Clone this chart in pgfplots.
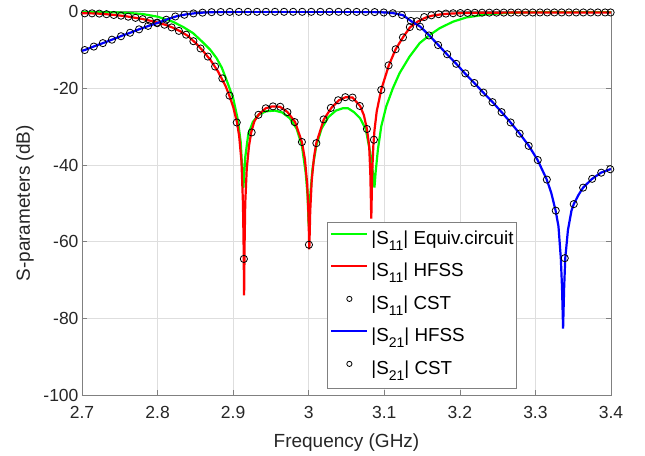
\documentclass[border=0pt]{standalone}
\usepackage{pgfplots}
\pgfplotsset{compat=1.18}
\usepackage{fontspec}
\setmainfont{Liberation Sans}
\definecolor{mgreen}{rgb}{0,1,0}
\definecolor{axgray}{rgb}{0.5,0.5,0.5}
\definecolor{txt}{rgb}{0.15,0.15,0.15}
\newcommand\sub[1]{\raisebox{-6pt}{\fontsize{14}{14}\selectfont #1}}
\begin{document}
\begin{tikzpicture}
\begin{axis}[
  scale only axis,
  width=529pt, height=383.3pt,
  xmin=2.7, xmax=3.4, ymin=-100, ymax=0,
  xtick={2.7,2.8,2.9,3,3.1,3.2,3.3,3.4},
  ytick={-100,-80,-60,-40,-20,0},
  /pgf/number format/assume math mode=true,
  tick label style={font=\fontsize{17.5}{20}\selectfont, text=txt},
  xticklabel style={yshift=-8pt},
  xlabel={Frequency (GHz)},
  ylabel={S-parameters (dB)},
  label style={font=\fontsize{19}{22}\selectfont, text=txt},
  xlabel style={at={(axis description cs:0.5,-0.123)}, anchor=center},
  ylabel style={at={(axis description cs:-0.108,0.5)}, anchor=center},
  grid=major,
  major grid style={black!13, line width=0.5pt},
  axis line style={axgray, line width=0.6pt},
  tick style={axgray, line width=0.6pt},
  tick align=inside,
  major tick length=5pt,
  clip mode=individual,
  legend image code/.code={\draw[#1] (0pt,6.5pt) -- (36pt,6.5pt);},
  legend cell align=left,
  legend style={at={(0.4631,0.0175)}, anchor=south west,
    draw=axgray, fill=white, line width=0.6pt,
    font=\fontsize{18.8}{20}\selectfont, text=black,
    inner xsep=3pt, inner ysep=7.6pt,
    row sep=12.5pt, column sep=3pt,
    nodes={inner sep=0pt, text height=14pt, text depth=6pt}},
]
% Equivalent circuit |S11|
\addplot[mgreen, line width=2.2pt] coordinates {
(2.70,-0.05) (2.72,-0.08) (2.74,-0.15) (2.76,-0.3) (2.78,-0.6) (2.80,-1.3) (2.82,-2.6) (2.834,-4.0) (2.847,-5.6) (2.86,-8.0) (2.87,-10.0) (2.878,-12.1) (2.885,-14.6) (2.891,-17.7) (2.90,-22.5) (2.906,-28) (2.910,-34) (2.9135,-46) (2.916,-38) (2.920,-32) (2.926,-28.8) (2.933,-27) (2.943,-26) (2.955,-25.8) (2.965,-26.3) (2.975,-27.8) (2.984,-30.5) (2.991,-35) (2.996,-42) (2.9985,-48) (3.0,-56) (3.002,-48) (3.005,-41) (3.010,-35) (3.017,-30.5) (3.026,-27.5) (3.036,-25.8) (3.045,-25.2) (3.052,-25.2) (3.060,-26.2) (3.068,-27.8) (3.0756,-30.7) (3.0822,-37.7) (3.0855,-43) (3.0870,-45.9) (3.0885,-42) (3.0916,-35.9) (3.096,-29.9) (3.1026,-24.7) (3.1115,-19.9) (3.1203,-16.0) (3.1335,-11.7) (3.1468,-8.2) (3.16,-6.1) (3.1733,-4.3) (3.191,-2.6) (3.2086,-1.5) (3.235,-0.7) (3.26,-0.35) (3.30,-0.1) (3.35,-0.03) (3.40,0)
};
\addlegendentry{|S\sub{11}| Equiv.circuit}
% HFSS |S11|
\addplot[red, line width=2.2pt] coordinates {
(2.700,-0.40) (2.710,-0.42) (2.720,-0.48) (2.730,-0.62) (2.740,-0.80) (2.750,-1.00) (2.760,-1.25) (2.770,-1.58) (2.780,-1.90) (2.790,-2.35) (2.800,-2.85) (2.810,-3.40) (2.820,-4.15) (2.830,-5.10) (2.840,-6.30) (2.850,-8.10) (2.860,-10.2) (2.870,-12.6) (2.880,-15.6) (2.890,-19.4) (2.895,-21.9) (2.900,-24.8) (2.905,-28.8) (2.908,-32.5) (2.911,-39) (2.913,-50) (2.9138,-60) (2.9145,-74) (2.9152,-60) (2.916,-50) (2.918,-41) (2.921,-35) (2.924,-31.4) (2.928,-28.6) (2.934,-26.8) (2.943,-25.2) (2.952,-24.7) (2.962,-24.8) (2.972,-26.2) (2.982,-28.8) (2.991,-34.0) (2.995,-38.5) (2.998,-45) (2.9995,-52) (3.0008,-62) (3.002,-52) (3.004,-44) (3.007,-38) (3.010,-34.3) (3.020,-28.1) (3.030,-25.1) (3.040,-23.1) (3.049,-22.3) (3.058,-22.4) (3.068,-24.6) (3.073,-27) (3.077,-30.6) (3.080,-35) (3.0815,-42) (3.0828,-54) (3.084,-42) (3.0855,-35) (3.087,-31) (3.090,-26) (3.096,-20.3) (3.106,-14.0) (3.115,-9.8) (3.125,-6.6) (3.134,-4.1) (3.144,-2.6) (3.154,-1.6) (3.163,-1.05) (3.173,-0.75) (3.183,-0.55) (3.200,-0.38) (3.230,-0.28) (3.280,-0.22) (3.340,-0.2) (3.400,-0.2)
};
\addlegendentry{|S\sub{11}| HFSS}
% CST |S11|
\addplot[only marks, mark=o, mark size=3.6pt, black, mark options={line width=0.8pt},
  legend image code/.code={\draw[black, line width=0.8pt] (18pt,6.5pt) circle (2.6pt);}] coordinates {
(2.7036,-0.43) (2.7133,-0.43) (2.7229,-0.5) (2.7325,-0.65) (2.7420,-0.85) (2.7516,-1.04) (2.7612,-1.3) (2.7708,-1.6) (2.7803,-1.95) (2.7899,-2.35) (2.7995,-2.85) (2.8091,-3.4) (2.8186,-4.1) (2.8282,-5.0) (2.8378,-6.0) (2.8474,-7.7) (2.8569,-9.6) (2.8665,-11.7) (2.8761,-14.3) (2.8857,-17.4) (2.8952,-21.9) (2.9048,-28.9) (2.9142,-64.5) (2.9245,-31.5) (2.9335,-26.9) (2.9431,-25.2) (2.9527,-24.7) (2.9623,-24.8) (2.9718,-26.2) (2.9814,-28.8) (2.9910,-34.0) (3.0003,-60.8) (3.0101,-34.3) (3.0197,-28.1) (3.0293,-25.1) (3.0389,-23.1) (3.0484,-22.3) (3.0580,-22.4) (3.0676,-24.6) (3.0770,-30.6) (3.0863,-33.4) (3.0960,-20.4) (3.1057,-14.0) (3.1150,-9.8) (3.1247,-6.7) (3.1338,-4.0) (3.1432,-2.5) (3.1528,-1.4) (3.1623,-0.95) (3.1719,-0.65) (3.1815,-0.5) (3.1911,-0.4) (3.2006,-0.35) (3.2102,-0.3) (3.2198,-0.28) (3.2294,-0.26) (3.2390,-0.25) (3.2485,-0.24) (3.2581,-0.23) (3.2677,-0.22) (3.2773,-0.22) (3.2868,-0.21) (3.2964,-0.21) (3.3060,-0.2) (3.3156,-0.2) (3.3251,-0.2) (3.3347,-0.2) (3.3443,-0.2) (3.3539,-0.2) (3.3634,-0.2) (3.3730,-0.2) (3.3826,-0.2) (3.3922,-0.2) (3.3995,-0.2)
};
\addlegendentry{|S\sub{11}| CST}
% HFSS |S21|
\addplot[blue, line width=2.2pt] coordinates {
(2.700,-10.2) (2.7036,-10.0) (2.7178,-8.9) (2.7311,-7.95) (2.7422,-7.1) (2.7538,-6.2) (2.7658,-5.35) (2.7773,-4.45) (2.7898,-3.6) (2.8018,-2.8) (2.8133,-1.95) (2.8258,-1.15) (2.8378,-0.7) (2.8498,-0.4) (2.8613,-0.22) (2.8738,-0.12) (2.90,-0.05) (2.95,-0.02) (3.00,-0.02) (3.05,-0.03) (3.08,-0.08) (3.095,-0.15) (3.105,-0.25) (3.1124,-0.4) (3.1247,-0.9) (3.1358,-2.5) (3.1476,-3.9) (3.1596,-6.2) (3.1715,-8.7) (3.1829,-11.1) (3.1953,-13.6) (3.2067,-16.1) (3.2191,-18.6) (3.231,-21.1) (3.2429,-23.5) (3.2548,-26.1) (3.2667,-28.8) (3.2791,-31.8) (3.291,-34.9) (3.3029,-38.7) (3.3148,-43.7) (3.3210,-47.3) (3.3267,-51.9) (3.3305,-56) (3.3336,-64.3) (3.3352,-72) (3.3366,-82.7) (3.3380,-72) (3.3395,-64.3) (3.3430,-57) (3.3477,-51.9) (3.3507,-50.2) (3.3570,-47.8) (3.3631,-45.9) (3.3744,-43.7) (3.3867,-42.0) (3.3990,-41.1) (3.4,-41.0)
};
\addlegendentry{|S\sub{21}| HFSS}
% CST |S21|
\addplot[only marks, mark=o, mark size=3.6pt, black, mark options={line width=0.8pt},
  legend image code/.code={\draw[black, line width=0.8pt] (18pt,6.5pt) circle (2.6pt);}] coordinates {
(2.7036,-10.0) (2.7156,-9.1) (2.7276,-8.2) (2.7396,-7.3) (2.7516,-6.4) (2.7636,-5.5) (2.7755,-4.6) (2.7875,-3.7) (2.7995,-3.0) (2.8115,-2.1) (2.8235,-1.25) (2.8355,-0.8) (2.8475,-0.45) (2.8595,-0.25) (2.8715,-0.12) (2.8835,-0.08) (2.8955,-0.05) (2.9075,-0.04) (2.9195,-0.03) (2.9315,-0.03) (2.9434,-0.03) (2.9554,-0.03) (2.9674,-0.03) (2.9794,-0.03) (2.9914,-0.03) (3.0034,-0.03) (3.0154,-0.03) (3.0274,-0.03) (3.0394,-0.03) (3.0514,-0.04) (3.0634,-0.05) (3.0753,-0.07) (3.0873,-0.1) (3.0993,-0.2) (3.1113,-0.4) (3.1233,-0.85) (3.1352,-2.4) (3.1472,-3.9) (3.1592,-6.2) (3.1712,-8.7) (3.1832,-11.1) (3.1952,-13.6) (3.2072,-16.1) (3.2192,-18.6) (3.2312,-21.1) (3.2432,-23.6) (3.2552,-26.2) (3.2672,-28.9) (3.2791,-31.8) (3.2911,-35.0) (3.3031,-38.7) (3.3151,-43.8) (3.3269,-51.9) (3.3388,-64.3) (3.3507,-50.2) (3.3631,-45.9) (3.3751,-43.6) (3.3871,-42.0) (3.3990,-41.1)
};
\addlegendentry{|S\sub{21}| CST}
\end{axis}
\path (-82pt,-60pt) rectangle (563pt,395pt);
\end{tikzpicture}
\end{document}
